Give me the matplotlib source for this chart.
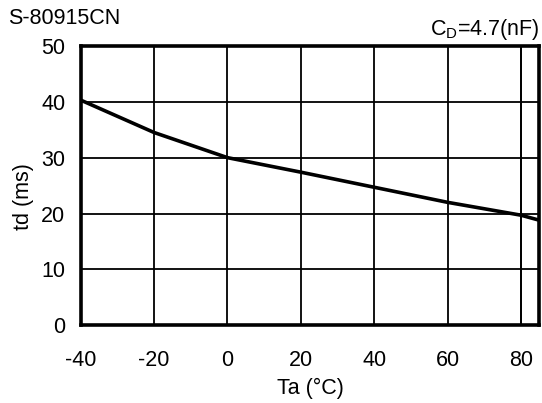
import matplotlib
matplotlib.use("Agg")
import matplotlib.pyplot as plt

# td vs Ta, C_D = 4.7 nF
ta = [-40, -20, 0, 20, 40, 60, 80, 85]
td = [40.3, 34.5, 30.0, 27.4, 24.7, 22.0, 19.7, 18.8]
xticks = [-40, -20, 0, 20, 40, 60, 80]
yticks = [0, 10, 20, 30, 40, 50]

plt.rcParams['font.family'] = ['Liberation Sans', 'DejaVu Sans']
plt.rcParams['axes.unicode_minus'] = False

fig = plt.figure(figsize=(5.42, 4.03), dpi=100)
ax = fig.add_axes([0.149, 0.193, 0.846, 0.693])

ax.plot(ta, td, color='black', lw=2.6, zorder=3)

ax.set_xlim(-40, 85)
ax.set_ylim(0, 50)
ax.set_xticks(xticks)
ax.set_yticks(yticks)
ax.grid(True, color='black', lw=1.3)
ax.axvline(80, color='black', lw=1.3)
ax.tick_params(length=0, labelsize=15.5)
ax.tick_params(axis='x', pad=18)
ax.tick_params(axis='y', pad=11)
for s in ax.spines.values():
    s.set_linewidth(2.6)

ax.set_xlabel("Ta (°C)", fontsize=15.5, labelpad=5)
ax.set_ylabel("td (ms)", fontsize=15.5)
ax.yaxis.set_label_coords(-0.102, 0.46)
fig.text(0.014, 0.94, "S-80915CN", fontsize=15.5)
ax.text(1.0, 1.015, "C$_\\mathregular{D}$=4.7(nF)", transform=ax.transAxes,
        ha='right', va='bottom', fontsize=15.5)

fig.savefig("out.png", dpi=100)
